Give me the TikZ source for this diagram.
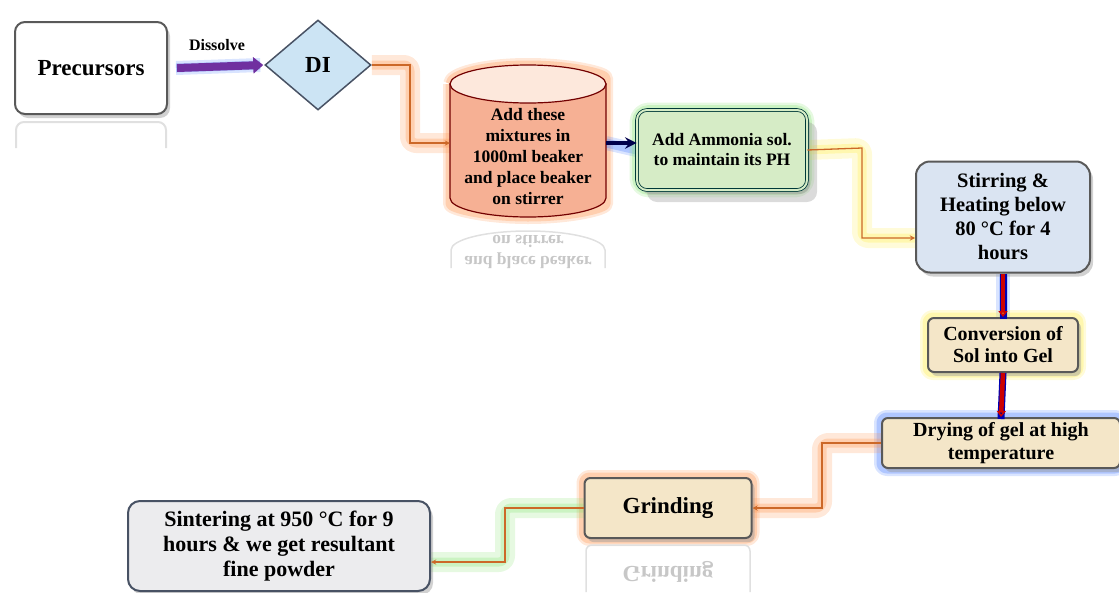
\documentclass[tikz,border=0pt]{standalone}
\usepackage{fontspec}
\setmainfont{Liberation Serif}
\usetikzlibrary{shapes.geometric,shadows,arrows.meta}

\pgfdeclarelayer{background}
\pgfsetlayers{background,main}

\definecolor{linkline}{RGB}{204,104,40}
\definecolor{glowor}{RGB}{255,150,80}
\definecolor{glowye}{RGB}{255,238,80}
\definecolor{glowgr}{RGB}{140,228,120}
\definecolor{glowbl}{RGB}{80,130,255}
\definecolor{beakerfill}{RGB}{246,176,148}
\definecolor{beakertop}{RGB}{253,232,220}
\definecolor{ammofill}{RGB}{214,236,198}
\definecolor{stirfill}{RGB}{218,228,242}
\definecolor{sandfill}{RGB}{244,230,200}
\definecolor{marblefill}{RGB}{236,236,238}
\definecolor{difill}{RGB}{204,228,244}
\definecolor{dissolvecol}{RGB}{112,48,160}
\definecolor{slateline}{RGB}{72,82,100}

\tikzset{
  box/.style={rectangle, rounded corners=10pt, draw=black!65, line width=2pt,
    align=center, font=\bfseries,
    drop shadow={shadow xshift=3pt, shadow yshift=-4pt, fill=black!40, opacity=.45}},
  link/.style={->, draw=linkline, line width=1.3pt},
  glow/.style={line width=20pt, draw=#1, opacity=.22, line join=round, rounded corners=6pt,
    postaction={draw=#1, line width=9pt, opacity=.3}},
  halo/.style={glow=#1, line width=14pt},
  echo/.style={align=center, font=\bfseries, text=black!22, yscale=-1},
  fs/.style 2 args={font=\bfseries\fontsize{#1}{#2}\selectfont},
}

\begin{document}
\begin{tikzpicture}[x=1pt, y=-1pt, >=stealth]
    \useasboundingbox (0,0) rectangle (1119,592);

    % first row
    \node[box, fill=white, minimum width=152pt, minimum height=92pt, fs={23}{26}] (pre) at (91,68) {Precursors};
    \node[diamond, draw=slateline, line width=1.5pt, fill=difill, minimum width=106pt, minimum height=90pt,
          inner sep=0pt, fs={23}{26}] (di) at (318,65) {DI};
    \node[fs={16}{18}] (dissolve) at (217,45) {Dissolve};

    % beaker drawn by hand
    \filldraw[fill=beakerfill, draw=black!55!red, line width=1.2pt]
      (450,84) -- (450,198) arc[start angle=180, end angle=0, x radius=78, y radius=19] -- (606,84) -- cycle;
    \filldraw[fill=beakertop, draw=black!55!red, line width=1.2pt] (528,84) ellipse [x radius=78, y radius=19];
    \node[align=center, minimum width=156pt, minimum height=110pt, fs={17.5}{21}] (beaker) at (528,157)
      {Add these\\mixtures in\\1000ml beaker\\and place beaker\\on stirrer};
    \draw[black!12, line width=1.5pt] (451,268) -- (451,250) arc[start angle=180, end angle=360, x radius=77, y radius=19] -- (605,268);
    \node[echo, fs={17.5}{21}] (beakerecho) at (528,252) {and place beaker\\on stirrer};

    \node[box, fill=ammofill, draw=black!55!teal, line width=.8pt, double=ammofill, double distance=2pt,
          drop shadow={shadow xshift=10pt, shadow yshift=-12pt, fill=black!40, opacity=.35},
          minimum width=170pt, minimum height=80pt, fs={17.5}{20}] (ammonia) at (722,150)
          {Add Ammonia sol.\\to maintain its PH};

    % right column
    \node[box, fill=stirfill, rounded corners=14pt, minimum width=174pt, minimum height=111pt, fs={20.5}{24}] (stir) at (1003,217)
          {Stirring \&\\Heating below\\80 \textdegree C for 4\\hours};
    \node[box, fill=sandfill, rounded corners=6pt, minimum width=150pt, minimum height=54pt, fs={20}{22}] (conv) at (1003,345)
          {Conversion of\\Sol into Gel};
    \node[box, fill=sandfill, rounded corners=6pt, minimum width=238pt, minimum height=50pt, fs={20}{23}] (dry) at (1001,443)
          {Drying of gel at high\\temperature};

    % bottom row
    \node[box, fill=sandfill, rounded corners=6pt, minimum width=167pt, minimum height=60pt, fs={23}{26}] (grind) at (668,508) {Grinding};
    \draw[black!12, line width=1.5pt, rounded corners=6pt] (586,592) -- (586,545) -- (750,545) -- (750,592);
    \node[echo, fs={23}{26}] (grindecho) at (668,572) {Grinding};
    \node[box, fill=marblefill, draw=slateline, rounded corners=12pt, minimum width=302pt, minimum height=90pt, fs={22}{25}] (sinter) at (279,546)
          {Sintering at 950 \textdegree C for 9\\hours \& we get resultant\\fine powder};
    \draw[black!12, line width=2pt, rounded corners=8pt] (16,148) -- (16,122) -- (166,122) -- (166,148);

    % coloured halos behind
    \begin{pgfonlayer}{background}
      \draw[halo=glowbl] ([xshift=8pt]pre.east) -- ([xshift=-4pt]di.west);
      \draw[glow=glowor] (di.east) -- (410,65) -- (410,143) -- (450,143);
      \draw[halo=glowor] (450,84) -- (450,198) arc[start angle=180, end angle=0, x radius=78, y radius=19] -- (606,84)
        arc[start angle=0, end angle=-180, x radius=78, y radius=19];
      \draw[halo=glowbl] (606,143) -- (ammonia.west);
      \draw[halo=glowgr, rounded corners=12pt] (ammonia.north west) rectangle (ammonia.south east);
      \draw[glow=glowye] (ammonia.east) -- (862,148) -- (862,238) -- (stir.west |- 0,238);
      \draw[halo=glowbl] (stir.south) -- (conv.north);
      \draw[halo=glowye] (conv.north west) rectangle (conv.south east);
      \draw[halo=glowbl] (dry.north west) rectangle (dry.south east);
      \draw[glow=glowor] (dry.west) -- (822,443) -- (822,508) -- (grind.east);
      \draw[halo=glowor] (grind.north west) rectangle (grind.south east);
      \draw[glow=glowgr] (grind.west) -- (505,508) -- (505,562) -- (sinter.east |- 0,562);
    \end{pgfonlayer}

    % connectors
    \draw[dissolvecol, line width=8pt, -{Triangle[length=10pt,width=16pt]}] ([xshift=9pt]pre.east) -- ([xshift=-1pt]di.west);
    \draw[link] (di.east) -- (410,65) -- (410,143) -- (450,143);
    \draw[->, draw=blue!30!black, line width=4pt] (606,143) -- (ammonia.west |- 0,143);
    \draw[link] (ammonia.east) -- (862,148) -- (862,238) -- (stir.west |- 0,238);
    \draw[blue!70!black, line width=7pt] (stir.south) -- ([yshift=-2pt]conv.north);
    \draw[red!80!black, line width=4.5pt, -{Triangle[length=6pt,width=9pt,fill=linkline]}] (stir.south) -- (conv.north);
    \draw[blue!70!black, line width=7pt] (conv.south) -- ([yshift=-2pt]dry.north);
    \draw[red!80!black, line width=4.5pt, -{Triangle[length=6pt,width=9pt,fill=blue!50!black]}] (conv.south) -- (dry.north);
    \draw[link] (dry.west) -- (822,443) -- (822,508) -- (grind.east);
    \draw[link] (grind.west) -- (505,508) -- (505,562) -- (sinter.east |- 0,562);
\end{tikzpicture}
\end{document}
